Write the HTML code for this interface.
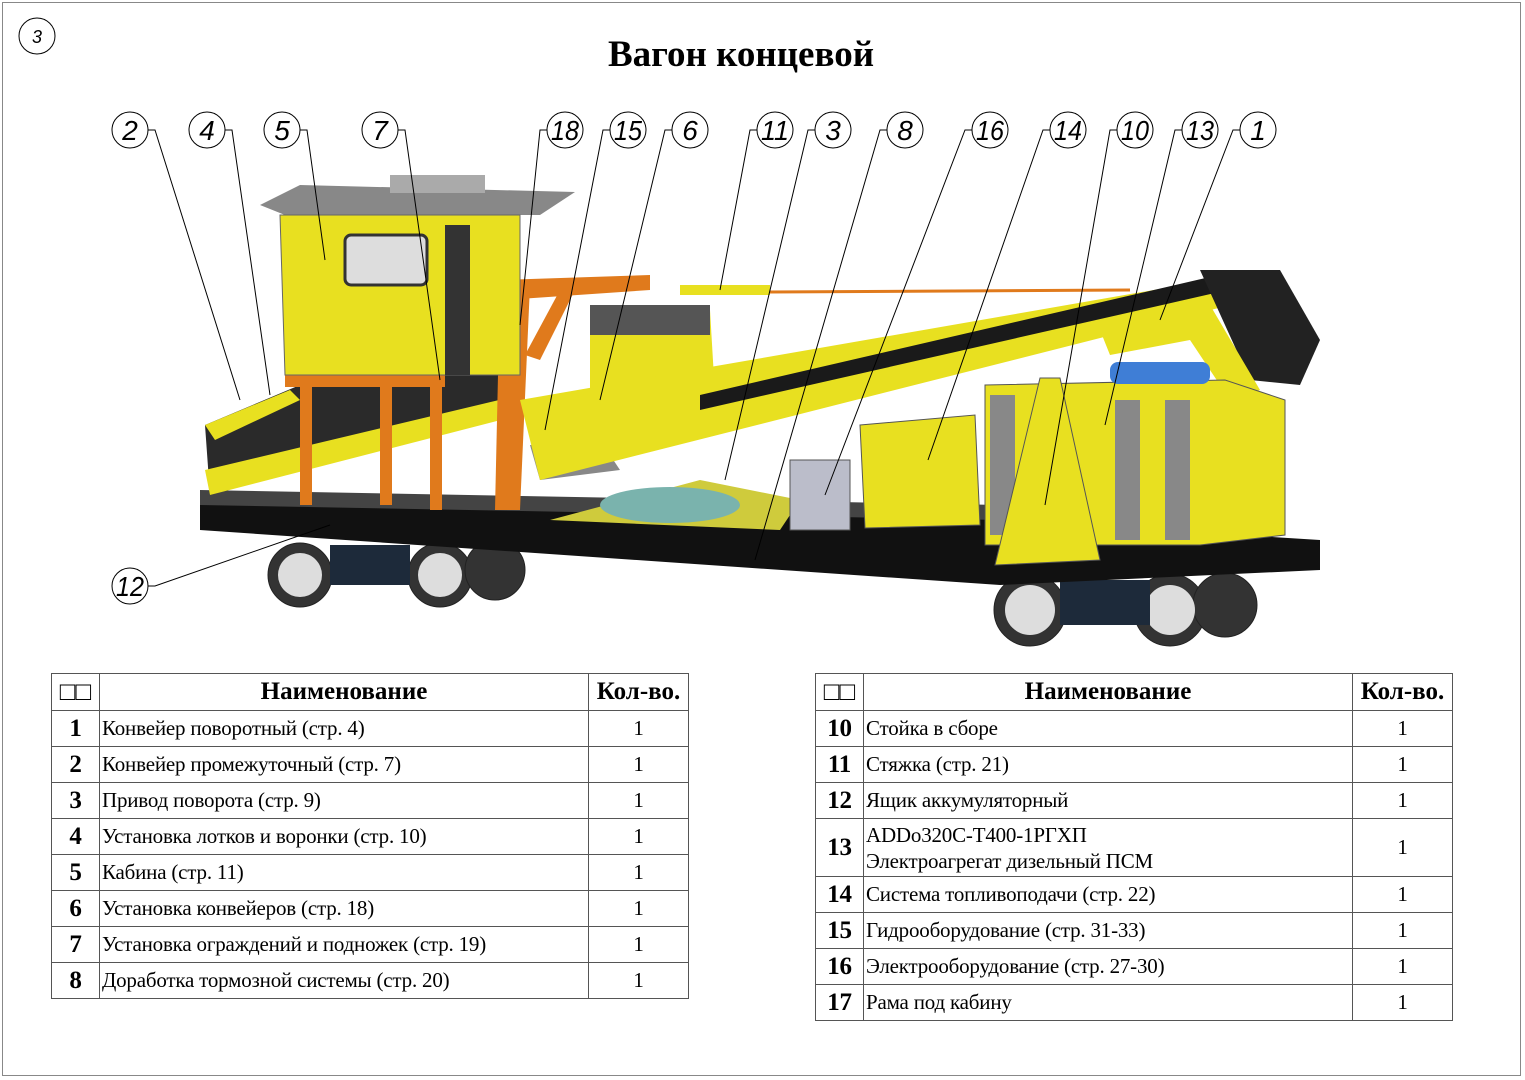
<!DOCTYPE html>
<html><head><meta charset="utf-8"><style>
body{margin:0;width:1525px;height:1080px;background:#fff;overflow:hidden;font-family:"Liberation Serif",serif}
#frame{position:absolute;left:2px;top:2px;width:1519px;height:1074px;border:1px solid #888;box-sizing:border-box}
table{position:absolute;border-collapse:collapse;font-family:"Liberation Serif",serif}
td{border:1px solid #555;padding:0 2px;height:35px;font-size:21px;white-space:nowrap;letter-spacing:-0.2px}
th{border:1px solid #555;height:34px;font-size:25px;font-weight:bold}
td.n{font-weight:bold;font-size:25px;text-align:center}
td.q{text-align:center}
</style></head><body>
<div id="frame"></div>
<svg width="1525" height="1080" style="position:absolute;left:0;top:0">
<text x="741" y="66" font-family="Liberation Serif" font-weight="bold" font-size="37" text-anchor="middle">Вагон концевой</text>
<circle cx="37" cy="36" r="18" fill="none" stroke="#000"/>
<text x="37" y="43" font-family="Liberation Sans" font-style="italic" font-size="18" text-anchor="middle">3</text>
<g fill="#333" stroke="#222">
<circle cx="300" cy="575" r="32"/><circle cx="440" cy="575" r="32"/><circle cx="495" cy="570" r="30"/>
<circle cx="1030" cy="610" r="36"/><circle cx="1170" cy="610" r="36"/><circle cx="1225" cy="605" r="32"/>
</g>
<g fill="#ddd"><circle cx="300" cy="575" r="22"/><circle cx="440" cy="575" r="22"/><circle cx="1030" cy="610" r="25"/><circle cx="1170" cy="610" r="25"/></g>
<rect x="330" y="545" width="80" height="40" fill="#1d2a3a"/>
<rect x="1060" y="580" width="90" height="45" fill="#1d2a3a"/>
<polygon points="200,495 1000,520 1320,540 1320,570 1000,585 200,530" fill="#111"/>
<polygon points="200,490 1000,505 1000,520 200,505" fill="#444"/>
<polygon points="550,520 700,480 800,500 780,530" fill="#cfcb3c"/>
<ellipse cx="670" cy="505" rx="70" ry="18" fill="#7ab3ad"/>
<polygon points="205,425 300,385 520,360 520,410 300,470 210,495" fill="#2a2a2a"/>
<polygon points="205,470 520,395 520,415 210,495" fill="#e8e020"/>
<polygon points="205,425 290,390 300,400 215,440" fill="#e8e020"/>
<g fill="#e07a1c">
<rect x="285" y="375" width="160" height="12"/>
<polygon points="300,385 312,385 312,505 300,505"/>
<polygon points="380,385 392,385 392,505 380,505"/>
<polygon points="430,385 442,385 442,510 430,510"/>
<polygon points="500,285 530,285 520,510 495,510"/>
<polygon points="500,280 650,275 650,290 505,300"/>
<polygon points="560,290 575,290 540,360 525,355"/>
</g>
<polygon points="260,205 300,185 575,192 540,215 285,215" fill="#888"/>
<rect x="390" y="175" width="95" height="18" fill="#aaa"/>
<polygon points="280,215 520,215 520,375 285,375" fill="#e8e020" stroke="#666"/>
<rect x="345" y="235" width="82" height="50" rx="6" fill="#ddd" stroke="#333" stroke-width="3"/>
<rect x="445" y="225" width="25" height="150" fill="#333"/>
<polygon points="590,320 710,310 715,395 590,395" fill="#e8e020"/>
<rect x="590" y="305" width="120" height="30" fill="#555"/>
<polygon points="530,445 600,440 620,470 540,480" fill="#888"/>
<polygon points="520,400 1240,275 1250,300 540,480" fill="#e8e020"/>
<polygon points="700,395 1240,270 1250,285 700,410" fill="#1a1a1a"/>
<polygon points="1200,270 1280,270 1320,340 1300,385 1250,380" fill="#222"/>
<polygon points="1100,330 1210,305 1260,390 1230,400 1190,340 1110,355" fill="#e8e020"/>
<rect x="680" y="285" width="90" height="10" fill="#e8e020"/>
<line x1="770" y1="292" x2="1130" y2="290" stroke="#e07a1c" stroke-width="3"/>
<rect x="790" y="460" width="60" height="70" fill="#bbbdca" stroke="#555"/>
<polygon points="860,425 975,415 980,525 865,528" fill="#e8e020" stroke="#555"/>
<polygon points="985,385 1225,380 1285,400 1285,535 1200,545 985,545" fill="#e8e020" stroke="#555"/>
<g fill="#888"><rect x="990" y="395" width="25" height="140"/><rect x="1115" y="400" width="25" height="140"/><rect x="1165" y="400" width="25" height="140"/></g>
<rect x="1110" y="362" width="100" height="22" rx="8" fill="#3f7ed6"/>
<polygon points="1040,378 1060,378 1100,560 995,565" fill="#e8e020" stroke="#555"/>
<g fill="none" stroke="#000" stroke-width="1">
<circle cx="130" cy="130" r="18"/><circle cx="207" cy="130" r="18"/><circle cx="282" cy="130" r="18"/><circle cx="380" cy="130" r="18"/>
<circle cx="565" cy="130" r="18"/><circle cx="628" cy="130" r="18"/><circle cx="690" cy="130" r="18"/><circle cx="775" cy="130" r="18"/>
<circle cx="833" cy="130" r="18"/><circle cx="905" cy="130" r="18"/><circle cx="990" cy="130" r="18"/><circle cx="1068" cy="130" r="18"/>
<circle cx="1135" cy="130" r="18"/><circle cx="1200" cy="130" r="18"/><circle cx="1258" cy="130" r="18"/><circle cx="130" cy="586" r="18"/>
<polyline points="148,130 155,130 240,400"/><polyline points="225,130 232,130 270,395"/><polyline points="300,130 307,130 325,260"/>
<polyline points="398,130 405,130 440,380"/><polyline points="547,130 540,130 520,325"/><polyline points="610,130 603,130 545,430"/>
<polyline points="672,130 665,130 600,400"/><polyline points="757,130 750,130 720,290"/><polyline points="815,130 808,130 725,480"/>
<polyline points="887,130 880,130 755,560"/><polyline points="972,130 965,130 825,495"/><polyline points="1050,130 1043,130 928,460"/>
<polyline points="1117,130 1110,130 1045,505"/><polyline points="1182,130 1175,130 1105,425"/><polyline points="1240,130 1233,130 1160,320"/>
<polyline points="148,586 155,586 330,525"/>
</g>
<g font-family="Liberation Sans" font-style="italic" font-size="28" text-anchor="middle">
<text x="130" y="140">2</text><text x="207" y="140">4</text><text x="282" y="140">5</text><text x="380" y="140">7</text>
<text x="565" y="140" textLength="28" lengthAdjust="spacingAndGlyphs">18</text><text x="628" y="140" textLength="28" lengthAdjust="spacingAndGlyphs">15</text><text x="690" y="140">6</text><text x="775" y="140" textLength="28" lengthAdjust="spacingAndGlyphs">11</text>
<text x="833" y="140">3</text><text x="905" y="140">8</text><text x="990" y="140" textLength="28" lengthAdjust="spacingAndGlyphs">16</text><text x="1068" y="140" textLength="28" lengthAdjust="spacingAndGlyphs">14</text>
<text x="1135" y="140" textLength="28" lengthAdjust="spacingAndGlyphs">10</text><text x="1200" y="140" textLength="28" lengthAdjust="spacingAndGlyphs">13</text><text x="1258" y="140">1</text><text x="130" y="596" textLength="28" lengthAdjust="spacingAndGlyphs">12</text>
</g>
</svg>
<table style="left:51px;top:673px;width:638px">
<tr><th style="width:45px;font-weight:normal;font-size:26px">□□</th><th>Наименование</th><th style="width:97px">Кол-во.</th></tr>
<tr><td class="n">1</td><td>Конвейер поворотный (стр. 4)</td><td class="q">1</td></tr>
<tr><td class="n">2</td><td>Конвейер промежуточный (стр. 7)</td><td class="q">1</td></tr>
<tr><td class="n">3</td><td>Привод поворота (стр. 9)</td><td class="q">1</td></tr>
<tr><td class="n">4</td><td>Установка лотков и воронки (стр. 10)</td><td class="q">1</td></tr>
<tr><td class="n">5</td><td>Кабина (стр. 11)</td><td class="q">1</td></tr>
<tr><td class="n">6</td><td>Установка конвейеров (стр. 18)</td><td class="q">1</td></tr>
<tr><td class="n">7</td><td>Установка ограждений и подножек (стр. 19)</td><td class="q">1</td></tr>
<tr><td class="n">8</td><td>Доработка тормозной системы (стр. 20)</td><td class="q">1</td></tr>
</table>
<table style="left:815px;top:673px;width:638px">
<tr><th style="width:45px;font-weight:normal;font-size:26px">□□</th><th>Наименование</th><th style="width:97px">Кол-во.</th></tr>
<tr><td class="n">10</td><td>Стойка в сборе</td><td class="q">1</td></tr>
<tr><td class="n">11</td><td>Стяжка (стр. 21)</td><td class="q">1</td></tr>
<tr><td class="n">12</td><td>Ящик аккумуляторный</td><td class="q">1</td></tr>
<tr><td class="n" style="height:57px">13</td><td style="line-height:26px">ADDo320C-T400-1РГХП<br>Электроагрегат дизельный ПСМ</td><td class="q">1</td></tr>
<tr><td class="n">14</td><td>Система топливоподачи (стр. 22)</td><td class="q">1</td></tr>
<tr><td class="n">15</td><td>Гидрооборудование (стр. 31-33)</td><td class="q">1</td></tr>
<tr><td class="n">16</td><td>Электрооборудование (стр. 27-30)</td><td class="q">1</td></tr>
<tr><td class="n">17</td><td>Рама под кабину</td><td class="q">1</td></tr>
</table>
</body></html>
